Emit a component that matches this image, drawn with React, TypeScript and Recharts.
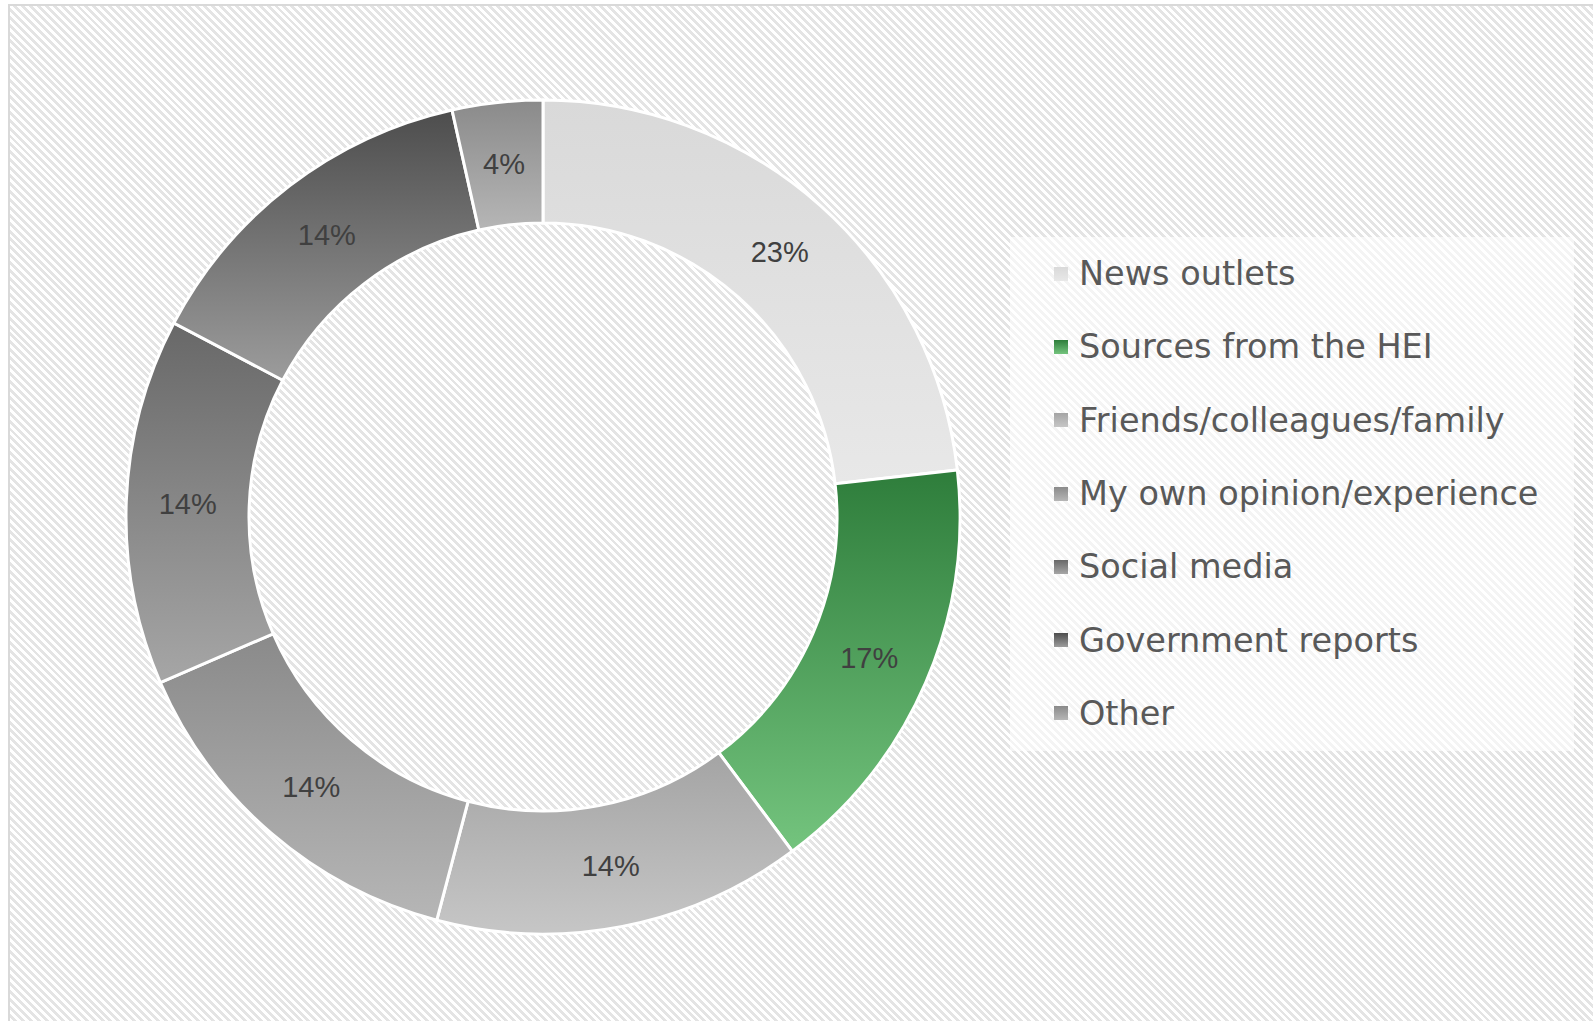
import { Cell, Legend, Pie, PieChart } from "recharts";

const sources = [
  "News outlets",
  "Sources from the HEI",
  "Friends/colleagues/family",
  "My own opinion/experience",
  "Social media",
  "Government reports",
  "Other",
];

const shares = [23.2, 16.6, 14.3, 14.4, 14.2, 13.8, 3.5];

// gradient stops (top, bottom) per slice
const topColors = ["#d9d9d9", "#2e7d3b", "#a4a4a4", "#8a8a8a", "#686868", "#4d4d4d", "#8a8a8a"];
const bottomColors = ["#e8e8e8", "#74c47e", "#c6c6c6", "#b6b6b6", "#a6a6a6", "#9c9c9c", "#b6b6b6"];

const data = sources.map((name, i) => ({ name, value: shares[i] }));

const RADIAN = Math.PI / 180;

const renderLabel = (props: any) => {
  const { cx, cy, midAngle, innerRadius, outerRadius, percent } = props;
  const r = (innerRadius + outerRadius) / 2;
  const x = cx + r * Math.cos(-midAngle * RADIAN);
  const y = cy + r * Math.sin(-midAngle * RADIAN);
  return (
    <text
      x={x}
      y={y}
      fill="#404040"
      textAnchor="middle"
      dominantBaseline="central"
      style={{ fontFamily: "'Liberation Sans Narrow', 'Liberation Sans', sans-serif", fontSize: 29 }}
    >
      {`${Math.round(percent * 100)}%`}
    </text>
  );
};

const LegendBox = () => (
  <div
    style={{
      width: 564,
      height: 514,
      background: "rgba(255,255,255,0.6)",
      fontFamily: "'DejaVu Sans', sans-serif",
      fontSize: 33.5,
      color: "#595959",
    }}
  >
    {sources.map((name, i) => (
      <div key={name} style={{ height: 73.3, display: "flex", alignItems: "center" }}>
        <span
          style={{
            display: "inline-block",
            width: 14,
            height: 14,
            marginLeft: 44,
            marginRight: 11,
            background: `linear-gradient(${topColors[i]}, ${bottomColors[i]})`,
          }}
        />
        <span>{name}</span>
      </div>
    ))}
  </div>
);

export default function App() {
  return (
    <div
      style={{
        position: "absolute",
        left: 8,
        top: 4,
        width: 1585,
        height: 1017,
        boxSizing: "border-box",
        borderLeft: "2px solid #d9d9d9",
        borderTop: "2px solid #d9d9d9",
        background: "repeating-linear-gradient(45deg, #ffffff 0px, #ffffff 2.8px, #e4e4e4 2.8px, #e4e4e4 5.6px)",
        overflow: "hidden",
      }}
    >
      <PieChart width={1583} height={1015} margin={{ top: 0, right: 0, bottom: 0, left: 0 }}>
        <defs>
          {sources.map((_, i) => (
            <linearGradient key={i} id={`slice-${i}`} x1="0" y1="0" x2="0" y2="1">
              <stop offset="0%" stopColor={topColors[i]} />
              <stop offset="100%" stopColor={bottomColors[i]} />
            </linearGradient>
          ))}
        </defs>
        <Pie
          data={data}
          dataKey="value"
          nameKey="name"
          cx={533}
          cy={511}
          innerRadius={294}
          outerRadius={417}
          startAngle={90}
          endAngle={-270}
          stroke="#ffffff"
          strokeWidth={3}
          label={renderLabel}
          labelLine={false}
          isAnimationActive={false}
        >
          {data.map((d, i) => (
            <Cell key={d.name} fill={`url(#slice-${i})`} />
          ))}
        </Pie>
        <Legend
          layout="vertical"
          align="right"
          verticalAlign="middle"
          content={() => <LegendBox />}
          wrapperStyle={{ left: 1000, top: 231, right: "auto", width: 564, height: 514 }}
        />
      </PieChart>
    </div>
  );
}
